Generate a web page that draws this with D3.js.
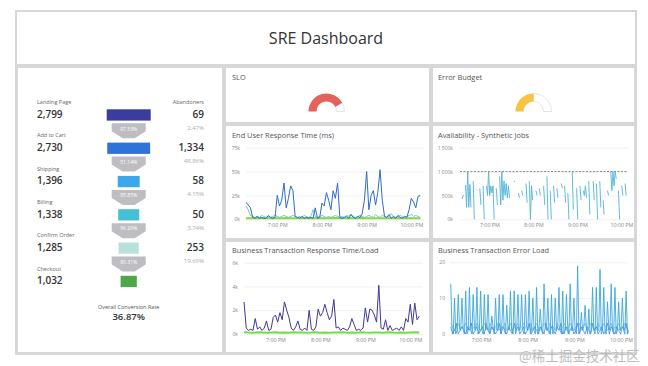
<!DOCTYPE html>
<html><head><meta charset="utf-8">
<script src="https://cdn.jsdelivr.net/npm/d3@7"></script>
<style>
body{margin:0;background:#fff;}
svg{display:block;font-family:"Open Sans",sans-serif;}
</style></head><body>
<svg id="c" width="648" height="366"></svg>
<script>
// ---------------- DATA ----------------
const dashboardTitle = "SRE Dashboard";
const funnelStages = ["Landing Page","Add to Cart","Shipping","Billing","Confirm Order","Checkout"];
const funnelValues = [2799,2730,1396,1338,1285,1032];
const funnelColors = ["#3a3d9e","#2f72d8","#3aa8ea","#45bfd5","#b9e1dc","#4ea84b"];
const stepConversion = ["97.53%","51.14%","95.85%","96.26%","80.31%"];
const abandoners = ["69","1,334","58","50","253"];
const abandonRate = ["2.47%","48.86%","4.15%","3.74%","19.69%"];
const overallConversion = "36.87%";
const sloValue = 0.84;
const errorBudgetValue = 0.5;

// End User Response Time (k ms), 3-minute samples from 18:18
const euBlue = [18,15,12, 2,1,3,1,2,1,1,4,2,1,2, 25,14,20,38,12,22,35,30,3, 2,1,3,1,2,1,2, 1,12,1,
  2,17,14,28,20,10,30,22,38,2, 1,2,3,1,5,2,1,3, 2,6,20,50,10,25,30,15,28,52,20,3, 2,5,1,3,1,4,2,1,3,2, 10,22,18,12,24,25];
const euCyan = [14,10,4,3,2,3,2,4,3,2,3,2,3,4,3,2,3,4,3,2,3,4,3,2,3,2,4,3,2,3,10,3,2,3,4,3,2,3,2,3,
  4,3,2,3,2,4,3,5,3,2,3,4,3,2,3,4,3,2,5,3,2,4,3,2,3,6,3,2,3,4,3,2,3,4,5,3,4,3,2];
// 6-minute samples
const euGreen = [1.2,1,1.1,1.3,1,1.2,1.1,1,1.2,1.3,1.1,1,1.2,1.1,1.3,1,1.1,1.2,1,1.1,1.3,1.2,1,1.1,1.2,1,1.3,1.1,1,1.2,1.1,1,1.2,1.3,1.1,1,1.2,1.1,1.2,1];

// Availability - Synthetic Jobs (k), 1.5-minute samples from 18:20
const availability = [
  null,null,430,510,null,720,250,1000,250,730,
  250,null,800,0,null,620,600,null,650,300,
  null,700,0,null,700,500,1000,500,700,550,
  700,0,null,650,300,null,900,300,1000,400,
  800,500,750,450,700,450,null,null,null,800,
  790,null,null,550,450,null,600,500,null,null,
  750,350,null,800,0,700,400,null,null,600,
  500,null,650,500,null,null,700,300,null,900,
  0,null,600,0,null,700,350,null,650,450,
  null,null,750,650,null,700,350,null,550,0,
  null,null,1000,200,null,null,650,0,null,700,
  400,null,600,500,700,450,null,800,100,null,
  null,800,400,null,750,0,null,800,250,null,
  400,100,null,null,600,500,null,1000,600,1000,
  700,1000,850,null,600,0,null,700,500,null,
  750,500,null];
const availabilityThreshold = 1000;

// Business Transaction Response Time/Load (k), 3-minute samples from 18:18
const btPurple = [2.7,0.5,0.3,0.4,0.3,1.3,0.4,0.6,0.3,0.5,1.1,0.3,0.4,1.4,1.6,1.0,1.8,1.2,2.7,2.0,
  1.4,0.5,0.3,0.6,1.1,0.4,0.3,0.5,0.3,2.0,0.4,0.3,0.6,2.1,1.5,1.8,2.5,1.8,1.2,1.5,
  2.9,0.5,0.6,0.3,0.5,0.4,0.3,0.6,1.3,0.8,0.3,0.4,0.3,0.5,2.2,1.0,2.1,2.0,1.6,1.0,
  4.1,0.5,0.4,1.2,0.3,0.7,0.3,0.4,0.5,0.3,0.6,0.3,1.3,1.0,2.5,0.8,2.6,1.2,1.5];
const btGreen = [0.15,0.12,0.1,0.14,0.12,0.1,0.13,0.15,0.11,0.12,0.1,0.14,0.12,0.13,0.1,0.12,0.15,0.11,0.12,0.1,
  0.13,0.12,0.14,0.1,0.12,0.11,0.15,0.12,0.1,0.13,0.12,0.1,0.14,0.12,0.11,0.13,0.1,0.12,0.14,0.12];

// Business Transaction Error Load, 1.6-minute samples from 18:21
const errMain = [14,1,0, 10,0,1, 11,2,1, 10,1,0, 12,0,1, 13,1,0, 11,2,1, 13,0,1, 12,1,0, 11,1,2,
  11,0,1, 5,2,0, 10,1,1, 11,0,2, 11,1,0, 8,2,1, 12,1,0, 12,0,1, 11,1,2, 11,1,0,
  11,2,1, 12,0,1, 10,1,0, 13,0,2, 7,1,0, 14,2,1, 10,1,0, 11,0,1, 10,1,2, 13,1,0,
  12,0,1, 11,2,0, 14,1,1, 10,1,0, 19,0,1, 6,1,2, 8,2,0, 7,0,1, 13,1,0, 13,1,1,
  18,0,1, 13,1,0, 9,2,1, 14,1,0, 13,0,1, 9,1,2, 10,1,0, 12,0,1];
// 2.4-minute samples
const errDark = [2,0,1,3,0,1,2,1,0,2,1,3,0,1,2,0,1,2,0,3,1,0,2,1,
  0,1,3,0,2,1,0,2,1,0,3,1,2,0,1,2,0,1,3,0,1,2,1,0,
  2,1,0,3,1,0,2,1,0,2,1,3,0,1,2,0,1,2,0,1,3,0,2,1,
  0,2,1,0,3,1,2,0,1,2,0,1,3,0,2,1,0,2,1,0,2,1,3,0];
const errCyan = [3,2,1,2,3,1,2,2,3,1,2,3,2,1,3,2,1,2,3,2,1,3,2,1,
  2,3,1,2,2,3,1,2,3,1,2,2,3,1,2,3,2,1,2,3,1,2,3,2,
  1,2,3,2,1,3,2,2,1,3,2,1,2,3,1,2,3,2,1,2,2,3,1,2,
  3,1,2,3,2,1,2,3,2,1,3,2,1,2,3,1,2,2,3,1,2,3,2,1];

const euTicks = [0,25,50,75], euTickLabels = ["0k","25k","50k","75k"];
const avTicks = [0,500,1000,1500], avTickLabels = ["0k","500k","1 000k","1 500k"];
const btTicks = [0,2,4,6], btTickLabels = ["0k","2k","4k","6k"];
const erTicks = [0,10,20], erTickLabels = ["0","10","20"];

// ---------------- DRAW ----------------
const svg = d3.select("#c");
const T = (h,m) => new Date(2021,0,1,h,m);

svg.append("rect").attr("x",15).attr("y",10).attr("width",622).attr("height",345).attr("fill","#d5d7d9");
function panel(x,y,w,h){
  svg.append("rect").attr("x",x).attr("y",y).attr("width",w).attr("height",h).attr("fill","#fff");
}
panel(17,12,618,52);
panel(18,68,204,284);
panel(226,68,203,54); panel(433,68,201,54);
panel(226,126,203,112); panel(433,126,201,112);
panel(226,242,203,110); panel(433,242,201,110);

svg.append("text").attr("x",326).attr("y",44).attr("text-anchor","middle")
  .attr("font-size",16).attr("fill","#333").text(dashboardTitle);

// Funnel
const fy = d3.scaleLinear().domain([0,5]).range([109.3,275.8]);
const fw = d3.scaleLinear().domain([0,d3.max(funnelValues)]).range([0,44]);
const fcx = 128.7;
const fg = svg.append("g");
funnelStages.forEach((s,i)=>{
  const top = fy(i);
  fg.append("text").attr("x",37).attr("y",top-5.3).attr("font-size",5.5).attr("fill","#666").text(s);
  fg.append("text").attr("x",37).attr("y",top+8.4).attr("font-size",10).attr("font-weight",600).attr("fill","#333")
    .text(d3.format(",")(funnelValues[i]));
  fg.append("rect").attr("x",fcx-fw(funnelValues[i])/2).attr("y",top).attr("width",fw(funnelValues[i]))
    .attr("height",11.3).attr("fill",funnelColors[i]);
});
fg.append("text").attr("x",204).attr("y",fy(0)-5.3).attr("text-anchor","end").attr("font-size",5.5).attr("fill","#666").text("Abandoners");
abandoners.forEach((a,i)=>{
  const top = fy(i);
  fg.append("text").attr("x",204).attr("y",top+8.4).attr("text-anchor","end").attr("font-size",10)
    .attr("font-weight",600).attr("fill","#333").text(a);
  fg.append("text").attr("x",204).attr("y",top+20.5).attr("text-anchor","end").attr("font-size",6)
    .attr("fill","#aaa").text(abandonRate[i]);
  const cy = top+14;
  const pts = [[-17,0],[17,0],[17,8],[6,15],[-6,15],[-17,8]].map(p=>[fcx+p[0],cy+p[1]]);
  fg.append("polygon").attr("points",pts.map(p=>p.join(",")).join(" ")).attr("fill","#bdbdc2");
  fg.append("text").attr("x",fcx).attr("y",cy+7.2).attr("text-anchor","middle").attr("font-size",5)
    .attr("fill","#fff").text(stepConversion[i]);
});
fg.append("text").attr("x",fcx).attr("y",308.7).attr("text-anchor","middle").attr("font-size",5.5).attr("fill","#555").text("Overall Conversion Rate");
fg.append("text").attr("x",fcx).attr("y",320).attr("text-anchor","middle").attr("font-size",9.5).attr("font-weight",600).attr("fill","#333").text(overallConversion);

// Panel titles
function ptitle(x,y,t){ svg.append("text").attr("x",x).attr("y",y).attr("font-size",7.4).attr("fill","#555").text(t); }
ptitle(232,80,"SLO"); ptitle(438,80,"Error Budget");
ptitle(232,138.3,"End User Response Time (ms)"); ptitle(438,138.3,"Availability - Synthetic Jobs");
ptitle(232,252.7,"Business Transaction Response Time/Load"); ptitle(438,252.7,"Business Transaction Error Load");

// Gauges
function gauge(cx,cy,v,color){
  const arc = d3.arc().innerRadius(10).outerRadius(18);
  const g = svg.append("g").attr("transform",`translate(${cx},${cy})`);
  g.append("path").attr("d",arc({startAngle:-Math.PI/2+Math.PI*v,endAngle:Math.PI/2}))
    .attr("fill","#fff").attr("stroke","#d4d4d4").attr("stroke-width",0.6);
  g.append("path").attr("d",arc({startAngle:-Math.PI/2,endAngle:-Math.PI/2+Math.PI*v})).attr("fill",color);
}
gauge(326.5,111.5,sloValue,"#e3625b");
gauge(533.5,111.5,errorBudgetValue,"#f6c443");

// Line charts
function lineChart(o){
  const g = svg.append("g");
  const x = d3.scaleTime().domain(o.xDomain).range(o.xRange);
  const y = d3.scaleLinear().domain(o.yDomain).range(o.yRange);
  const ya = g.append("g").attr("transform",`translate(${o.xRange[0]},0)`)
    .call(d3.axisLeft(y).tickValues(o.ticks).tickFormat((d,i)=>o.labels[i])
      .tickSize(-(o.xRange[1]-o.xRange[0])).tickPadding(o.pad));
  ya.select(".domain").remove();
  ya.selectAll("line").attr("stroke","#e6e6e6").attr("stroke-width",0.6);
  ya.selectAll("text").attr("fill","#888").attr("font-size",5).attr("font-family","Open Sans");
  const xa = g.append("g").attr("transform",`translate(0,${o.yRange[0]})`)
    .call(d3.axisBottom(x).ticks(d3.timeHour.every(1)).tickFormat(d3.timeFormat("%-I:%M %p")).tickSize(0).tickPadding(4));
  xa.select(".domain").remove();
  xa.selectAll("text").attr("fill","#888").attr("font-size",5.3).attr("font-family","Open Sans");
  if(o.threshold!=null){
    g.append("line").attr("x1",o.xRange[0]).attr("x2",o.xRange[1]).attr("y1",y(o.threshold)).attr("y2",y(o.threshold))
      .attr("stroke","#555").attr("stroke-width",0.7).attr("stroke-dasharray","2,1.5");
  }
  o.series.forEach(s=>{
    const st = s.start.getTime();
    const pts = s.values.map((v,i)=>({t:new Date(st+i*s.step*60000),v}));
    const line = d3.line().defined(d=>d.v!=null).x(d=>x(d.t)).y(d=>y(d.v));
    g.append("path").attr("d",line(pts)).attr("fill","none").attr("stroke",s.color)
      .attr("stroke-width",s.width).attr("stroke-linejoin","round");
  });
}
const leftDomain = [T(18,18),T(22,17)], rightDomain = [T(18,20),T(22,9)];
lineChart({xDomain:leftDomain,xRange:[246,424],yDomain:[0,75],yRange:[219.3,147.7],ticks:euTicks,labels:euTickLabels,pad:6,
  series:[
    {values:euCyan,start:T(18,18),step:3,color:"#5cc3e6",width:0.9},
    {values:euGreen,start:T(18,18),step:6,color:"#8ad43c",width:2},
    {values:euBlue,start:T(18,18),step:3,color:"#2e6bd0",width:1}
  ]});
lineChart({xDomain:rightDomain,xRange:[460,628],yDomain:[0,1500],yRange:[219.3,147.7],ticks:avTicks,labels:avTickLabels,pad:7,
  threshold:availabilityThreshold,
  series:[{values:availability,start:T(18,20),step:1.5,color:"#4fb3d9",width:0.9}]});
lineChart({xDomain:leftDomain,xRange:[244,423],yDomain:[0,6],yRange:[334,262.7],ticks:btTicks,labels:btTickLabels,pad:6,
  series:[
    {values:btGreen,start:T(18,18),step:6,color:"#7cd84a",width:2},
    {values:btPurple,start:T(18,18),step:3,color:"#3d3996",width:1}
  ]});
lineChart({xDomain:rightDomain,xRange:[450,628],yDomain:[0,20],yRange:[334,262.3],ticks:erTicks,labels:erTickLabels,pad:5,
  series:[
    {values:errCyan,start:T(18,21.6),step:2.4,color:"#7dd3ec",width:0.9},
    {values:errDark,start:T(18,21),step:2.4,color:"#2c62bd",width:0.6},
    {values:errMain,start:T(18,21),step:1.6,color:"#3aa6dc",width:0.9}
  ]});

// watermark
svg.append("text").attr("x",519).attr("y",361).attr("font-family","Noto Sans CJK SC").attr("font-size",13.5)
  .attr("fill","#bdbdbd").text("@稀土掘金技术社区");
</script>
</body></html>
